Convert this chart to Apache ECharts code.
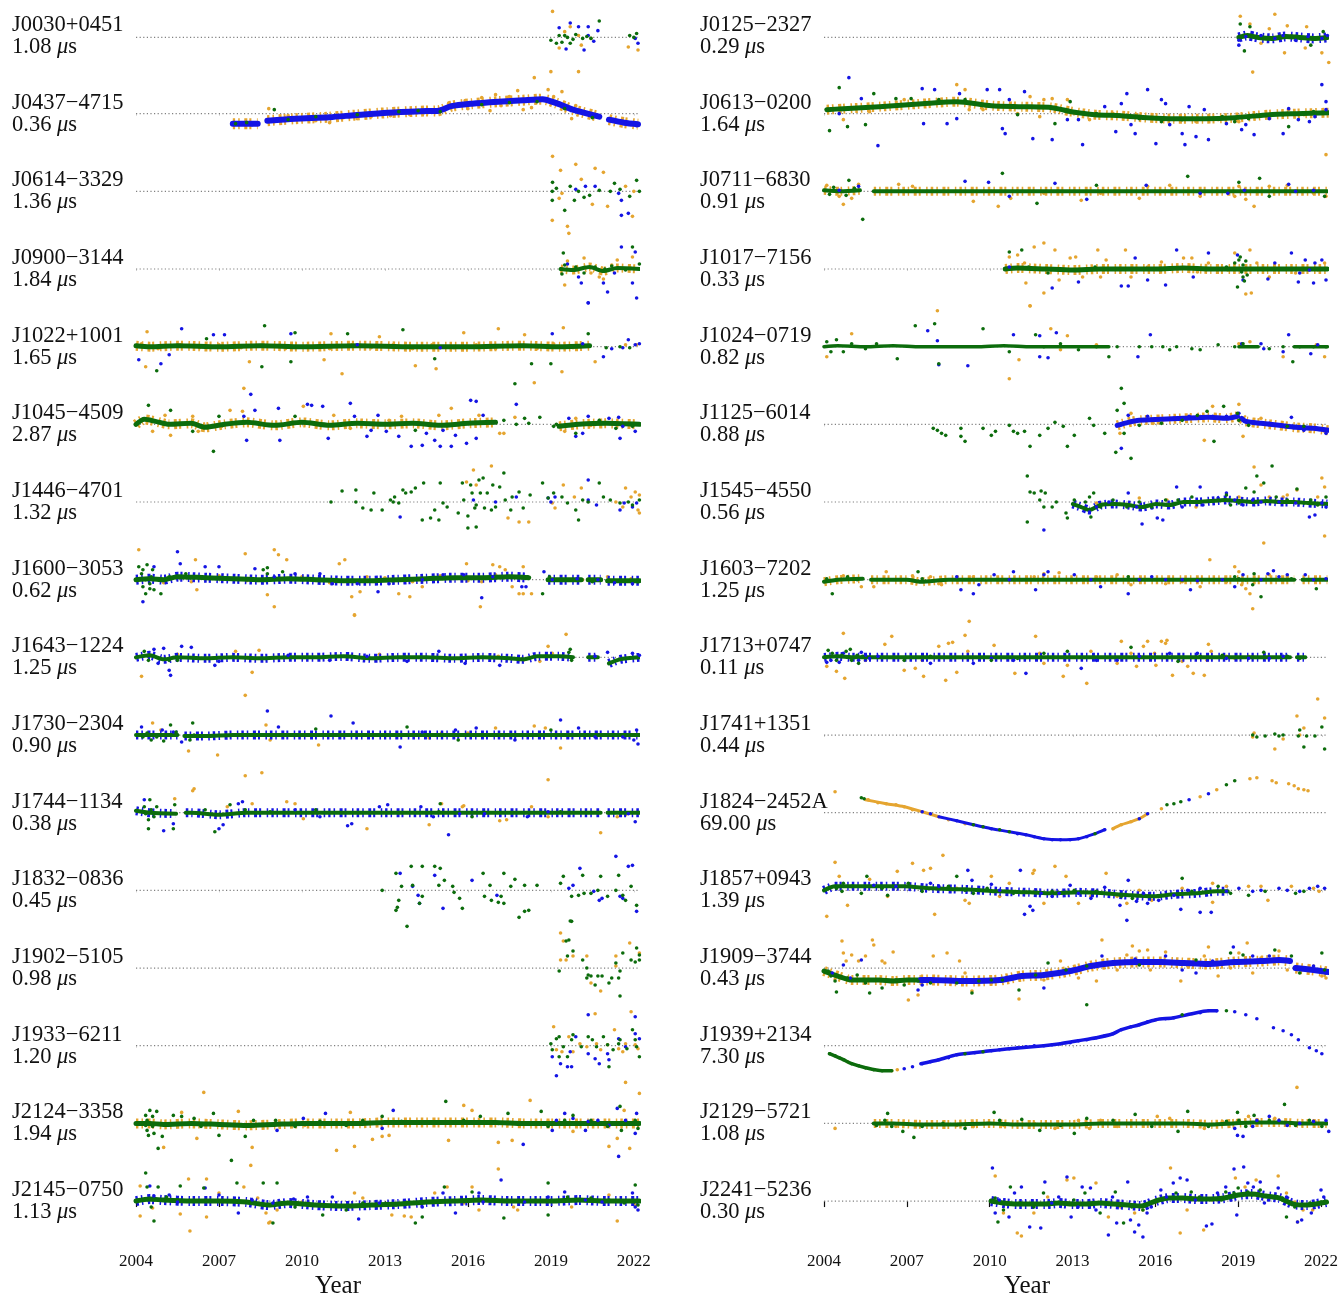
<!DOCTYPE html>
<html>
<head>
<meta charset="utf-8">
<script src="https://cdn.jsdelivr.net/npm/echarts@6/dist/echarts.min.js"></script>
<style>
  html, body { margin: 0; padding: 0; background: #fff; }
  #main { width: 1341px; height: 1298px; }
</style>
</head>
<body>
<div id="main"></div>
<script>
// pulsar names and rms values, left column first then right column
const names = ['J0030+0451', 'J0437−4715', 'J0614−3329', 'J0900−3144', 'J1022+1001', 'J1045−4509', 'J1446−4701', 'J1600−3053',
  'J1643−1224', 'J1730−2304', 'J1744−1134', 'J1832−0836', 'J1902−5105', 'J1933−6211', 'J2124−3358', 'J2145−0750',
  'J0125−2327', 'J0613−0200', 'J0711−6830', 'J1017−7156', 'J1024−0719', 'J1125−6014', 'J1545−4550', 'J1603−7202',
  'J1713+0747', 'J1741+1351', 'J1824−2452A', 'J1857+0943', 'J1909−3744', 'J1939+2134', 'J2129−5721', 'J2241−5236'];
const rms = ['1.08', '0.36', '1.36', '1.84', '1.65', '2.87', '1.32', '0.62', '1.25', '0.90', '0.38', '0.45', '0.98', '1.20', '1.94', '1.13',
  '0.29', '1.64', '0.91', '0.33', '0.82', '0.88', '0.56', '1.25', '0.11', '0.44', '69.00', '1.39', '0.43', '7.30', '1.08', '0.30'];
const yearTicks = [2004, 2007, 2010, 2013, 2016, 2019, 2022];

// residuals [year, value]; value in display units, one row spans about -39..39
// _o = orange, _g = green, _b = blue backend; _t = dense run of points
const J0030_o = [[2019.06,27],[2019.3,-11],[2019.7,11],[2020.0,2],[2020.45,-1],[2020.1,-8],[2021.8,-10],[2022.15,-13],[2019.5,6]];
const J0030_g = [[2019.0,-3],[2019.3,2],[2019.4,-5],[2019.5,2],[2019.7,-6],[2019.9,3],[2020.15,-1],[2020.45,-1],[2020.75,17],[2019.2,-6],[2021.85,2],[2022.1,4],[2022.0,0],[2019.6,0],[2020.3,1],[2019.8,-2]];
const J0030_b = [[2019.3,10],[2019.7,15],[2020.0,11],[2020.35,11],[2020.7,7],[2020.35,2],[2020.55,-4],[2020.2,-13],[2019.55,-12],[2022.05,-1],[2022.15,-6]];

const J0437_t = [[2007.5,-10],[2008.4,-10],[2008.55,'-'],[2008.75,-7],[2009.75,-5],[2011.0,-3.5],[2011.9,-1.5],[2013.1,1],[2014.3,2.5],[2014.95,3],[2015.4,7.5],[2016.15,10],[2017.1,12],[2018.0,13.5],[2018.7,14.5],[2019.2,10.5],[2019.8,4],[2020.75,-3],[2020.95,'-'],[2021.1,-6],[2021.65,-9],[2022.15,-10.5]];
const J0437_o = [[2008.8,5],[2009.5,-2],[2010.0,-6],[2010.5,-7],[2011.0,-9],[2011.5,-4],[2012.0,-5],[2012.5,-3],[2013.2,-2],[2013.9,-1],[2014.5,3],[2015.3,10],[2015.9,13],[2016.5,16],[2017.0,19],[2017.5,17],[2017.8,23],[2018.0,4],[2018.3,6],[2018.4,36],[2019.0,42],[2020.0,42],[2018.9,24],[2019.4,22],[2019.75,-5],[2019.1,17],[2019.9,8],[2021.9,-11],[2016.8,3],[2016.0,5],[2009.0,-8],[2010.2,-4],[2013.5,0],[2017.2,8]];
const J0437_g = [[2008.0,-9],[2009.0,4],[2009.5,-6],[2010.5,-3],[2012.0,-1],[2013.5,2],[2015.0,2],[2016.5,9],[2017.5,11],[2018.5,12],[2019.5,5],[2020.5,-4],[2007.6,-10],[2014.2,3]];
const J0437_b = [[2007.55,-9],[2008.2,-11],[2021.8,-9],[2022.1,-12],[2019.4,8]];

const J0614_o = [[2019.06,35],[2019.9,27],[2019.35,21],[2019.05,-29],[2019.6,-35],[2019.65,-42],[2019.4,-2],[2019.3,-7],[2020.5,-13],[2020.6,23],[2020.9,19],[2021.05,-15],[2021.95,-25],[2021.7,5],[2022.0,0],[2020.1,12]];
const J0614_g = [[2019.06,9],[2019.05,0],[2019.05,-9],[2019.5,-19],[2020.0,0],[2020.4,-4],[2020.75,1],[2021.3,8],[2022.1,11],[2022.2,0],[2021.85,-5],[2019.85,-9],[2019.7,5],[2021.15,0],[2019.2,3],[2020.2,-6],[2021.5,2]];
const J0614_b = [[2020.25,5],[2020.6,5],[2021.45,-2],[2021.55,-9],[2021.55,-24],[2021.8,-22],[2019.9,2]];

const J0900_t = [[2019.35,0],[2019.8,-1],[2020.4,2],[2020.9,-2],[2021.4,1],[2022.2,0]];
const J0900_o = [[2019.5,-16],[2020.2,11],[2020.45,-4],[2020.75,-8],[2021.4,9],[2021.85,2],[2021.95,12],[2019.85,-1],[2021.2,4],[2019.6,8],[2020.9,-10]];
const J0900_g = [[2019.45,16],[2019.5,4],[2019.9,2],[2020.6,2],[2020.95,0],[2021.7,-1],[2021.95,22],[2022.2,5],[2019.4,-5],[2020.2,-4],[2021.2,3]];
const J0900_b = [[2019.6,5],[2020.1,-14],[2020.35,-34],[2020.9,-14],[2021.05,-23],[2021.55,22],[2022.05,17],[2021.95,-14],[2022.1,-29],[2021.3,-4],[2020.0,-8]];

const J1022_t = [[2004.0,1],[2004.5,0],[2005.5,1],[2007,0],[2008.5,1],[2010,0],[2012,1],[2014,0],[2016,0],[2018,1],[2019.3,0],[2020.4,1]];
const J1022_o = [[2004.35,-20],[2004.4,15],[2008.1,-15],[2010.8,-13],[2011.05,13],[2011.45,-27],[2012.8,10],[2014.1,-19],[2014.85,-22],[2015.85,14],[2017.1,18],[2018.05,12],[2018.4,-36],[2019.45,19],[2019.4,-25],[2020.6,-15],[2021.7,2],[2022.1,2],
  [2004.2,3],[2004.8,-2],[2005.6,2],[2006.3,-1],[2007.0,2],[2007.8,-1],[2008.6,2],[2009.4,-2],[2010.2,1],[2011.0,-2],[2011.8,2],[2012.5,-1],[2013.3,2],[2014.0,-2],[2014.7,2],[2015.5,-1],[2016.3,2],[2017.0,-2],[2017.7,1],[2018.5,-2],[2019.1,3],[2019.8,-1]];
const J1022_g = [[2004.75,-24],[2006.55,8],[2008.55,-20],[2008.65,21],[2009.75,14],[2009.6,-15],[2011.65,13],[2013.65,17],[2014.8,-12],[2017.7,-37],[2018.3,-17],[2019.0,-17],[2020.35,13],[2021.0,-1],[2021.5,0],[2021.85,-1]];
const J1022_b = [[2004.1,-13],[2004.9,-17],[2005.65,18],[2006.8,12],[2007.2,12],[2009.6,13],[2019.05,13],[2020.35,44],[2020.9,-10],[2021.8,7],[2022.05,2],[2022.2,3],[2021.2,-2],[2021.6,-1],[2020.15,3],[2005.2,-8],[2012.0,2],[2015.0,-1]];

const J1045_t = [[2004.0,0],[2004.3,5],[2004.7,3],[2005.2,0],[2006.0,1],[2006.5,-3],[2007.2,0],[2008.0,2],[2009.0,-1],[2010,2],[2011,-1],[2012,1],[2013,0],[2014,1],[2015,-1],[2016,1],[2017.0,2],[2017.1,'-'],[2019.3,-2],[2020,0],[2021,1],[2022.2,0]];
const J1045_o = [[2007.9,36],[2007.4,14],[2007.85,13],[2005.25,-11],[2004.6,-7],[2005.05,9],[2006.05,8],[2006.25,-7],[2007.1,-2],[2010.05,18],[2011.15,9],[2011.75,-4],[2013.15,4],[2013.6,8],[2014.95,9],[2015.4,16],[2016.4,9],[2017.15,-9],[2017.3,-9],[2017.7,7],[2019.5,-7],[2019.9,6],[2020.45,-1]];
const J1045_g = [[2004.45,19],[2005.25,14],[2006.8,-27],[2007.0,8],[2006.05,-7],[2009.75,8],[2014.1,-6],[2017.75,0],[2018.05,6],[2018.6,7],[2019.2,0],[2019.9,-9],[2020.75,4],[2021.35,-4],[2021.95,-2],[2020.6,0],[2017.3,4],[2018.2,1],[2019.1,-2]];
const J1045_b = [[2008.15,30],[2007.9,8],[2008.0,-16],[2008.3,14],[2009.15,16],[2009.2,-16],[2010.2,20],[2010.35,19],[2010.75,18],[2010.95,-14],[2011.75,21],[2011.9,8],[2012.35,-12],[2012.5,-6],[2012.75,9],[2013.05,-7],[2013.5,-12],[2013.95,-22],[2014.35,-21],[2014.5,-9],[2014.8,-16],[2015.0,-22],[2015.1,-6],[2015.4,-22],[2015.55,-11],[2015.95,-19],[2016.1,24],[2016.3,23],[2016.3,-14],[2016.55,9],[2017.75,20],[2019.65,6],[2019.9,-12],[2020.35,8],[2021.5,-14],[2021.6,-2],[2022.05,-7],[2021.1,6],[2021.45,7],[2020.15,-9]];

const J1446_o = [[2015.95,20],[2016.2,32],[2016.85,36],[2016.3,17],[2017.45,-16],[2017.85,-20],[2018.2,-20],[2019.05,-1],[2019.15,-6],[2019.45,17],[2019.85,5],[2020.1,14],[2021.35,0],[2021.6,-5],[2021.7,14],[2021.9,5],[2022.05,10],[2022.15,-8],[2022.2,7],[2022.2,-11]];
const J1446_g = [[2011.05,0],[2011.45,11],[2011.95,12],[2011.95,0],[2012.2,-6],[2012.5,-8],[2012.6,9],[2012.9,-8],[2013.2,2],[2013.3,0],[2013.35,5],[2013.5,-1],[2013.65,12],[2013.75,9],[2013.95,10],[2014.1,14],[2014.35,-18],[2014.4,19],[2014.65,-16],[2014.8,-8],[2015.0,19],[2014.95,-18],[2015.1,-1],[2015.25,-5],[2015.65,-11],[2015.8,19],[2015.85,2],[2016.0,-14],[2016.0,-26],[2016.1,17],[2016.15,9],[2016.25,-6],[2016.3,-3],[2016.3,-25],[2016.4,22],[2016.45,9],[2016.55,24],[2016.6,-6],[2016.7,9],[2016.85,-8],[2016.9,17],[2017.0,-5],[2017.15,15],[2017.3,29],[2017.35,2],[2017.55,-8],[2017.6,5],[2017.85,10],[2018.0,-6],[2018.25,7],[2018.7,19],[2018.9,4],[2019.1,9],[2019.4,5],[2019.6,-1],[2019.9,-8],[2020.0,-18],[2020.15,2],[2020.35,0],[2020.75,19],[2020.9,5],[2021.15,2],[2021.5,-1],[2021.8,0],[2021.95,-3],[2022.2,2]];
const J1446_b = [[2013.55,-15],[2016.2,2],[2017.0,0],[2017.75,5],[2018.9,4],[2019.0,0],[2019.15,5],[2020.35,22],[2020.65,-3],[2021.5,-8],[2021.65,-1],[2021.95,-5],[2022.1,-1],[2020.35,2]];

const J1600_t = [[2004.0,0],[2004.5,1],[2005.0,0],[2005.5,3],[2006.5,2],[2007.5,1],[2008.5,0],[2009.5,1],[2010.5,0],[2011.5,-1],[2012.5,-1],[2013.5,0],[2014.5,1],[2015.5,2],[2016.5,2],[2017.5,3],[2018.2,2],[2018.5,'-'],[2018.9,0],[2020.1,0],[2020.2,'-'],[2020.35,0],[2020.8,0],[2020.9,'-'],[2021.05,-1],[2022.2,-1]];
const J1600_o = [[2004.1,30],[2006.15,20],[2006.2,-10],[2007.95,26],[2009.0,30],[2009.15,25],[2009.45,20],[2008.75,-15],[2009.0,-27],[2011.35,16],[2011.55,20],[2011.8,-17],[2011.9,-35],[2012.1,-12],[2012.35,3],[2013.5,-14],[2013.9,-17],[2014.35,-7],[2015.95,16],[2016.5,-2],[2016.45,-27],[2016.9,15],[2017.15,13],[2017.35,10],[2017.6,-7],[2017.85,-14],[2018.0,-14],[2018.0,13],[2018.3,-14],[2019.4,0],[2020.15,0],[2021.05,3],[2021.9,1],
  [2005.0,-3],[2006.0,-2],[2007.0,4],[2008.0,-1],[2010.0,3],[2011.0,-3],[2013.0,2],[2014.0,-2],[2015.0,4],[2016.0,-1],[2017.0,5]];
const J1600_g = [[2004.1,13],[2004.2,6],[2004.25,-7],[2004.35,-14],[2004.4,15],[2004.5,-4],[2004.55,3],[2004.65,-10],[2004.35,0],[2004.25,10],[2004.6,10],[2004.5,-9],[2004.9,-14],[2005.2,3],[2005.8,6],[2018.7,-14],[2018.15,3],[2018.95,3],[2020.5,-2],[2022.15,-2],[2008.6,10],[2009.3,8],[2008.75,12],[2008.75,6]];
const J1600_b = [[2004.25,-22],[2004.65,13],[2005.5,28],[2005.6,16],[2006.5,13],[2007.0,13],[2008.3,11],[2009.0,3],[2009.75,6],[2010.65,6],[2011.1,-4],[2012.0,-4],[2012.75,-12],[2013.15,-4],[2014.35,0],[2015.1,5],[2015.85,5],[2016.5,-18],[2016.9,3],[2017.95,-7],[2018.1,-7],[2018.75,8],[2019.05,0],[2019.95,1],[2020.7,0],[2021.3,-3],[2021.95,-4]];

const J1643_t = [[2004.0,0],[2004.5,2],[2005.0,-2],[2005.5,0],[2006.5,-1],[2007.5,0],[2008.5,-1],[2009.5,0],[2010.5,0],[2011.5,1],[2012.5,-1],[2013.5,0],[2014.5,0],[2015.5,-1],[2016.5,0],[2017.5,-1],[2018.0,-2],[2018.5,1],[2019.3,1],[2019.8,0],[2020.0,'-'],[2020.35,0],[2020.7,0],[2020.85,'-'],[2021.1,-6],[2021.5,-2],[2022.2,0]];
const J1643_o = [[2004.2,-19],[2008.2,-15],[2007.95,-38],[2011.9,42],[2007.6,6],[2008.45,7],[2018.9,11],[2019.55,23],[2019.05,4],[2017.1,1],[2018.0,-3],[2018.6,-4],[2005.5,3],[2012.8,3]];
const J1643_g = [[2004.3,6],[2004.45,-3],[2019.65,5],[2019.7,8],[2019.75,-3],[2005.2,-3],[2005.5,-3]];
const J1643_b = [[2004.65,8],[2005.0,9],[2005.65,11],[2006.0,10],[2005.25,-18],[2005.2,-13],[2004.8,-6],[2006.85,-8],[2007.0,-4],[2009.5,2],[2011.0,-3],[2012.35,1],[2013.8,-4],[2014.95,6],[2015.9,-6],[2017.15,-8],[2021.05,5],[2021.95,4],[2022.2,2],[2020.6,1]];

const J1730_t = [[2004.0,0],[2005.5,0],[2005.6,'-'],[2005.75,-1],[2006.5,-1],[2007.5,0],[2009,0],[2011,0],[2013,0],[2015,0],[2017,0],[2019,0],[2020.5,0],[2022.2,0]];
const J1730_o = [[2005.9,-16],[2006.95,-20],[2008.7,10],[2008.85,-5],[2010.6,-10],[2014.6,-3],[2015.05,2],[2018.4,9],[2018.8,7],[2019.35,-13],[2017.0,7],[2016.0,2],[2004.6,12],[2004.9,5]];
const J1730_g = [[2004.25,-2],[2004.4,2],[2004.55,-5],[2004.75,-2],[2005.0,-6],[2005.25,10],[2005.45,3],[2006.05,12],[2006.1,0],[2005.95,-5],[2010.5,6],[2013.8,8],[2015.65,-5],[2017.4,0],[2019.0,5]];
const J1730_b = [[2004.2,8],[2004.95,5],[2005.35,3],[2005.65,-7],[2008.75,24],[2009.15,8],[2011.05,19],[2011.85,12],[2013.55,-12],[2014.35,3],[2015.55,5],[2016.3,7],[2017.7,-5],[2019.35,15],[2020.0,7],[2020.6,-2],[2022.1,5],[2022.15,-9],[2022.0,-5],[2021.6,-2]];

const J1744_t = [[2004.0,2],[2004.5,0],[2005.45,-1],[2005.6,'-'],[2005.8,0],[2006,0],[2007,-2],[2008,0],[2009,0],[2011,0],[2013,0],[2015,0],[2017,0],[2019,0],[2020.8,0],[2020.9,'-'],[2021.05,0],[2022.2,0]];
const J1744_o = [[2006.1,24],[2006.05,22],[2005.4,14],[2007.95,37],[2008.55,40],[2007.3,6],[2008.2,9],[2009.45,11],[2009.75,9],[2010.05,-6],[2012.35,-16],[2014.6,-12],[2015.05,9],[2015.8,6],[2015.85,7],[2017.15,-8],[2017.4,-7],[2018.3,6],[2018.9,33],[2018.9,-4],[2020.8,-20],[2021.4,-4],[2021.7,-2]];
const J1744_g = [[2004.3,6],[2004.35,-1],[2004.45,-7],[2004.5,13],[2004.55,3],[2004.65,-4],[2004.75,6],[2004.45,-16],[2005.35,-16],[2005.4,8],[2006.85,-19],[2006.5,3],[2007.4,8],[2007.95,3],[2008.85,1],[2010.5,3],[2015.0,9],[2014.95,1],[2016.15,-4],[2019.35,1]];
const J1744_b = [[2004.3,13],[2005.0,-18],[2005.35,-11],[2007.0,-16],[2007.15,-12],[2007.7,9],[2007.85,11],[2009.75,3],[2010.65,-4],[2011.65,-13],[2011.8,-11],[2012.8,6],[2013.1,8],[2014.3,6],[2014.75,-4],[2015.3,-22],[2015.7,-1],[2016.6,-1],[2018.15,-4],[2018.9,1],[2021.8,-1],[2022.05,-9]];

const J1832_o = [];
const J1832_g = [[2012.9,0],[2013.4,17],[2013.4,-20],[2013.45,-17],[2013.5,-10],[2013.6,4],[2013.8,-36],[2013.95,24],[2014.0,5],[2014.35,24],[2014.25,-13],[2014.35,-6],[2014.8,24],[2015.0,22],[2015.15,10],[2014.95,5],[2015.45,4],[2015.5,-2],[2015.8,-18],[2015.7,-8],[2016.55,17],[2016.6,-6],[2016.8,5],[2016.85,-10],[2017.1,-12],[2017.2,-6],[2017.3,-13],[2017.3,17],[2017.55,4],[2017.7,11],[2017.85,-27],[2018.05,-21],[2018.2,-20],[2018.05,5],[2018.5,5],[2019.35,7],[2019.45,14],[2019.75,-31],[2019.75,-6],[2020.0,-5],[2020.15,15],[2020.2,-3],[2020.45,-3],[2020.7,0],[2020.8,14],[2021.05,-6],[2021.35,0],[2021.45,15],[2021.6,-5],[2021.7,-10],[2021.9,4],[2022.1,-15]];
const J1832_b = [[2013.55,17],[2014.0,4],[2014.2,-5],[2014.25,-13],[2014.8,15],[2015.1,-18],[2016.15,10],[2017.05,-5],[2019.65,2],[2019.8,5],[2020.05,22],[2020.55,-1],[2020.75,-10],[2020.85,-8],[2021.35,34],[2021.5,-6],[2021.6,-8],[2021.8,24],[2021.95,25],[2022.1,-21]];

const J1902_o = [[2019.35,35],[2019.45,27],[2019.55,8],[2019.35,8],[2019.8,12],[2020.3,12],[2020.45,-15],[2020.8,-23],[2021.35,12],[2021.35,2],[2021.85,25],[2022.2,15]];
const J1902_g = [[2019.3,-3],[2019.55,27],[2019.65,28],[2019.7,47],[2019.8,17],[2019.6,12],[2020.15,8],[2020.3,0],[2020.35,-7],[2020.45,-8],[2020.3,-10],[2020.6,-17],[2020.7,-8],[2020.85,-8],[2021.1,-15],[2021.2,-10],[2021.35,5],[2021.45,-10],[2021.5,-3],[2021.5,-28],[2021.6,15],[2021.9,8],[2022.05,6],[2022.1,20],[2022.2,13],[2022.2,8]];
const J1902_b = [];

const J1933_o = [[2019.1,19],[2019.2,-4],[2019.4,-6],[2019.65,9],[2019.8,-6],[2020.05,2],[2020.3,-1],[2020.6,32],[2020.65,2],[2020.8,-4],[2021.05,1],[2021.3,16],[2021.45,-3],[2021.6,-6],[2021.7,2],[2021.9,34],[2022.05,1],[2022.15,-3]];
const J1933_g = [[2019.0,2],[2019.05,-4],[2019.2,7],[2019.3,9],[2019.45,-1],[2019.6,-11],[2019.75,6],[2019.8,11],[2020.1,-1],[2020.35,9],[2020.5,6],[2020.65,-1],[2020.9,9],[2021.05,1],[2021.1,-21],[2021.25,-4],[2021.45,2],[2021.5,6],[2021.75,-3],[2021.95,16],[2022.05,6],[2022.1,-1],[2022.2,-11],[2019.3,-11]];
const J1933_b = [[2019.05,-11],[2019.2,-30],[2019.35,-18],[2019.6,-21],[2019.7,-6],[2019.75,-21],[2019.9,9],[2020.35,31],[2020.35,-8],[2020.6,-13],[2020.75,-18],[2021.05,-8],[2021.1,-14],[2021.45,7],[2021.7,-1],[2022.05,29],[2022.05,12],[2022.2,7]];

const J2124_t = [[2004.0,0],[2004.5,0],[2005,-1],[2006,0],[2007,-1],[2008,-2],[2009,-1],[2010,0],[2011,0],[2012,0],[2013,1],[2014,1],[2015,1],[2016,1],[2017,1],[2018,0],[2019,0],[2020,0],[2021,0],[2022.2,0]];
const J2124_o = [[2004.1,-1],[2005.0,-24],[2005.65,11],[2006.45,31],[2006.2,-15],[2007.7,12],[2008.2,-24],[2008.15,-42],[2008.25,-3],[2010.1,-2],[2011.25,-27],[2011.75,11],[2011.9,-23],[2012.55,-16],[2012.9,-13],[2013.15,-12],[2015.3,-17],[2015.85,18],[2016.15,13],[2017.1,-19],[2017.6,-17],[2018.25,23],[2018.9,2],[2019.8,-8],[2021.1,-23],[2021.4,-15],[2021.7,41],[2021.85,-25],[2022.2,30],[2021.65,13]];
const J2124_g = [[2004.35,8],[2004.4,3],[2004.4,-7],[2004.45,-12],[2004.5,13],[2004.6,-3],[2004.6,7],[2004.65,-10],[2004.75,12],[2004.35,-2],[2004.8,-25],[2004.95,-13],[2005.35,8],[2005.65,7],[2006.1,5],[2006.35,-3],[2006.8,10],[2007.0,-12],[2007.45,-37],[2007.95,-13],[2008.25,3],[2009.05,3],[2009.75,-3],[2010.65,2],[2011.6,-2],[2012.2,3],[2012.9,7],[2013.6,2],[2015.2,22],[2015.85,3],[2016.45,7],[2017.1,0],[2017.45,10],[2018.2,0],[2018.65,12],[2018.9,-3],[2019.5,3],[2019.8,8],[2020.45,3],[2021.05,-3],[2021.5,17],[2021.55,-7],[2022.05,3],[2022.15,-5]];
const J2124_b = [[2009.1,-7],[2010.05,5],[2010.85,10],[2012.9,-5],[2013.3,13],[2018.0,-21],[2019.05,-7],[2019.2,3],[2019.5,10],[2019.8,5],[2020.25,-7],[2020.35,2],[2020.7,3],[2021.1,-2],[2021.4,15],[2021.45,-33],[2021.7,3],[2022.05,-10],[2022.1,10]];

const J2145_t = [[2004.0,0],[2004.5,2],[2005,1],[2006,0],[2007,0],[2008,-1],[2008.8,-4],[2009.5,-2],[2010.5,-4],[2011.5,-5],[2012.5,-4],[2013.5,-3],[2014.5,-1],[2015.5,0],[2016.5,1],[2017.5,0],[2018.5,0],[2019,0],[2020,1],[2021,0],[2022.2,0]];
const J2145_o = [[2004.15,15],[2004.15,-15],[2004.6,-7],[2005.6,-13],[2005.9,22],[2005.95,-30],[2006.55,22],[2006.55,-16],[2007.0,8],[2007.9,14],[2008.4,3],[2008.7,-12],[2008.85,-21],[2008.8,-22],[2009.1,-9],[2010.0,-1],[2011.9,8],[2012.2,3],[2013.25,-14],[2013.7,-15],[2013.95,-16],[2014.8,8],[2015.25,14],[2015.85,-2],[2016.15,14],[2016.4,-9],[2017.1,32],[2017.65,-6],[2017.8,-9],[2019.75,-6],[2021.1,6],[2021.4,-20],[2022.05,-4]];
const J2145_g = [[2004.35,28],[2004.4,14],[2004.55,-6],[2004.65,-20],[2004.8,14],[2005.1,4],[2005.6,15],[2006.45,13],[2007.65,18],[2008.6,18],[2008.95,-22],[2009.1,18],[2009.75,-6],[2010.75,-14],[2011.6,-9],[2012.2,-2],[2013.4,-4],[2014.1,-22],[2014.35,-16],[2015.15,14],[2016.15,9],[2017.3,-17],[2018.9,18],[2018.9,-14],[2019.6,4],[2020.45,3],[2021.1,1],[2021.65,-2],[2022.05,16],[2022.15,-4]];
const J2145_b = [[2004.5,15],[2004.65,5],[2005.2,6],[2005.5,-1],[2006.5,13],[2007.0,6],[2007.7,-12],[2008.2,1],[2008.95,-2],[2009.7,2],[2010.2,4],[2011.1,4],[2012.05,-18],[2012.8,-2],[2014.35,-6],[2015.1,8],[2015.55,-12],[2016.4,8],[2016.55,-1],[2017.2,21],[2018.05,-1],[2018.9,4],[2019.5,9],[2020.25,1],[2020.85,-1],[2021.95,8],[2022.05,-6],[2022.15,-9]];

const J0125_t = [[2019.0,0],[2019.3,2],[2019.7,0],[2020.2,-1],[2020.7,1],[2021.2,0],[2021.7,-1],[2022.2,0]];
const J0125_o = [[2019.05,22],[2019.4,14],[2019.5,-36],[2019.8,-6],[2020.3,24],[2020.75,12],[2020.65,-16],[2021.4,-11],[2021.45,11],[2022.0,-16],[2022.25,-26],[2020.1,9],[2020.9,2]];
const J0125_g = [[2019.05,14],[2019.2,-14],[2019.4,11],[2021.6,-8],[2022.05,6]];
const J0125_b = [[2019.0,-3],[2019.25,1],[2019.8,2],[2020.3,-1],[2020.6,2],[2021.05,-3],[2021.5,1],[2022.0,-1],[2022.2,2],[2019.0,-8]];

const J0613_t = [[2004.1,4],[2004.7,5],[2006.0,7],[2007.55,10],[2008.8,12],[2010.05,8],[2011.15,7],[2012.25,6],[2012.95,2],[2013.8,-1],[2014.75,-2],[2015.7,-4],[2016.65,-5],[2017.75,-5],[2018.85,-4],[2020.1,-1],[2021.05,0],[2022.25,1]];
const J0613_o = [[2004.1,4],[2004.7,-6],[2005.65,2],[2006.9,14],[2007.85,10],[2008.8,29],[2009.1,24],[2009.25,4],[2009.75,4],[2011.0,0],[2011.45,17],[2011.8,-3],[2011.95,14],[2012.25,15],[2012.8,14],[2013.05,0],[2013.6,-6],[2014.45,0],[2015.3,-1],[2016.65,-6],[2017.45,-8],[2018.25,-6],[2019.0,-8],[2020.1,-3],[2020.8,4],[2021.35,-1],[2022.15,-41]];
const J0613_g = [[2004.2,-17],[2004.55,26],[2004.85,-13],[2005.5,-11],[2005.8,20],[2006.6,15],[2007.15,15],[2008.15,14],[2009.1,14],[2011.0,-1],[2012.35,-10],[2012.9,12],[2013.85,0],[2015.4,-5],[2016.2,-8],[2016.95,-6],[2018.4,-3],[2018.85,-8],[2019.35,-5],[2020.6,-1],[2020.8,-13],[2021.05,0],[2021.7,2]];
const J0613_b = [[2004.9,36],[2004.55,0],[2005.95,-32],[2005.35,15],[2007.55,25],[2008.0,24],[2007.6,-10],[2008.45,-10],[2008.8,-5],[2008.9,20],[2009.9,24],[2010.35,24],[2010.45,-15],[2010.55,-20],[2010.7,14],[2011.55,-25],[2011.25,22],[2012.25,-26],[2013.35,-31],[2012.8,-6],[2013.2,-6],[2014.15,7],[2014.55,-18],[2014.75,10],[2014.95,20],[2015.1,-11],[2015.25,-20],[2015.7,24],[2016.0,-30],[2016.2,14],[2016.35,10],[2016.5,-11],[2016.95,-20],[2017.05,-31],[2017.2,7],[2017.45,-23],[2017.9,-26],[2017.75,4],[2018.55,-10],[2019.1,-16],[2019.25,-11],[2019.55,-21],[2020.1,-5],[2020.6,-20],[2020.8,5],[2021.15,-6],[2021.55,-8],[2022.0,29],[2022.15,12],[2021.75,-3],[2022.15,4]];

const J0711_t = [[2004.0,1],[2004.6,0],[2005.3,1],[2005.45,'-'],[2005.8,0],[2007,0],[2009,0],[2011,0],[2013,0],[2015,0],[2017,0],[2019,0],[2020.5,0],[2022.2,0]];
const J0711_o = [[2004.1,6],[2004.55,-5],[2004.7,-13],[2005.0,-7],[2005.25,7],[2006.7,7],[2007.2,5],[2009.4,-10],[2010.05,0],[2010.3,-15],[2010.75,-7],[2011.95,-2],[2013.3,-9],[2014.0,-2],[2015.4,-7],[2015.7,5],[2016.5,6],[2017.6,-5],[2018.85,-5],[2019.0,5],[2019.25,-8],[2019.55,-15],[2020.1,5],[2020.75,6],[2021.7,-2],[2022.15,-5]];
const J0711_g = [[2004.9,11],[2005.4,-28],[2010.45,18],[2011.7,-12],[2017.15,15],[2019.0,9],[2019.75,13],[2022.1,-5],[2020.1,-5],[2013.85,6],[2004.2,-3],[2004.35,4],[2004.8,-4],[2005.1,3]];
const J0711_b = [[2004.55,1],[2005.25,5],[2009.1,10],[2009.95,9],[2010.7,-5],[2012.35,8],[2013.5,-8],[2015.65,6],[2017.6,-2],[2018.6,-2],[2019.2,1],[2020.8,7],[2021.05,0],[2021.7,1]];

const J1017_t = [[2010.55,0],[2011,1],[2012,0],[2013,-1],[2014,0],[2015,0],[2016,0],[2017,1],[2018,0],[2019,0],[2020,0],[2021,0],[2022.2,0]];
const J1017_o = [[2010.7,12],[2011.0,14],[2011.25,6],[2011.3,-14],[2011.6,22],[2011.95,26],[2011.95,-24],[2011.45,-37],[2012.35,19],[2012.5,-11],[2012.9,11],[2013.1,12],[2013.35,-8],[2013.9,19],[2014.0,-8],[2014.2,9],[2014.9,19],[2015.1,-8],[2015.7,2],[2016.2,7],[2017.0,11],[2017.3,11],[2017.5,-3],[2017.9,6],[2018.6,-1],[2018.85,16],[2019.25,-25],[2019.45,-24],[2019.4,19],[2019.65,6],[2020.1,-8],[2021.05,-4],[2021.85,-1],[2022.1,6]];
const J1017_g = [[2010.7,17],[2011.15,19],[2011.4,2],[2012.1,-4],[2013.8,2],[2018.55,2],[2018.85,6],[2018.95,-18],[2019.0,9],[2019.15,-8],[2019.1,-3],[2019.15,4],[2019.05,12],[2019.2,-12],[2019.3,-6],[2019.25,8]];
const J1017_b = [[2010.7,2],[2012.25,-19],[2013.2,-13],[2014.75,-17],[2015.0,-17],[2015.25,11],[2015.7,-11],[2016.35,-16],[2016.75,19],[2017.35,-8],[2017.9,16],[2018.95,14],[2019.15,-11],[2020.05,-10],[2020.3,6],[2020.9,16],[2021.15,-13],[2021.4,9],[2021.55,-1],[2021.7,-14],[2021.75,6],[2022.0,9],[2022.15,-11],[2021.2,-4]];

const J1024_t = [[2004.0,0],[2004.5,1],[2005.5,0],[2006.5,1],[2007.5,0],[2008.5,0],[2009.5,0],[2010.5,1],[2011.5,0],[2012.5,0],[2013.5,0],[2014.3,0],[2014.4,'-'],[2019.0,0],[2019.7,0],[2019.8,'-'],[2021.0,0],[2022.2,0]];
const J1024_o = [[2004.1,-10],[2005.0,13],[2008.1,36],[2010.7,-32],[2011.05,-13],[2011.45,41],[2012.2,18],[2012.8,11],[2012.55,-3],[2013.85,2],[2019.0,3],[2019.4,5],[2020.6,-10],[2022.1,-10],[2021.8,2]];
const J1024_g = [[2004.1,5],[2004.25,-5],[2004.45,7],[2004.7,-5],[2005.0,3],[2005.5,-2],[2005.9,3],[2006.65,-12],[2007.3,21],[2008.0,23],[2008.15,-17],[2009.75,18],[2010.7,-5],[2011.65,12],[2011.95,0],[2012.55,3],[2013.2,-3],[2013.85,0],[2014.3,-10],[2014.6,0],[2015.4,0],[2015.85,0],[2016.25,0],[2016.5,-3],[2016.75,0],[2017.3,-2],[2017.6,-3],[2018.25,2],[2018.85,0],[2019.15,3],[2020.1,-2],[2020.6,0],[2020.95,-15],[2021.2,0],[2021.7,0],[2022.15,0]];
const J1024_b = [[2007.75,16],[2008.15,-18],[2008.1,6],[2009.2,-19],[2010.85,12],[2011.8,11],[2012.4,14],[2011.8,-10],[2012.1,-11],[2015.8,12],[2015.35,-10],[2019.1,3],[2019.8,3],[2019.9,-2],[2020.8,12],[2020.6,-5],[2021.6,-7],[2021.85,2]];

const J1125_t = [[2014.6,-1],[2015.0,2],[2015.4,4],[2016.2,5],[2017.0,6],[2017.9,7],[2018.55,6],[2018.95,8],[2019.05,'-'],[2019.1,6],[2019.25,3],[2019.8,1],[2020.45,-1],[2021.05,-3],[2021.7,-4],[2022.25,-6]];
const J1125_o = [[2014.7,-9],[2015.1,11],[2015.9,1],[2016.5,6],[2017.6,8],[2017.75,-16],[2018.05,18],[2018.15,9],[2019.0,20],[2019.15,-12],[2019.8,6],[2020.1,-1],[2020.65,-2],[2022.1,-7]];
const J1125_g = [[2007.95,-4],[2008.1,-6],[2008.25,-9],[2008.4,-11],[2008.95,-4],[2008.95,-12],[2009.1,-17],[2009.75,-4],[2010.05,-11],[2010.2,-7],[2010.7,-1],[2010.85,-7],[2011.0,-9],[2011.25,-7],[2011.45,-22],[2011.8,-11],[2012.1,-4],[2012.35,2],[2012.65,-2],[2012.8,-22],[2013.05,-11],[2013.6,6],[2013.75,-1],[2014.15,-9],[2014.55,-28],[2014.6,14],[2014.75,36],[2014.85,21],[2015.1,-34],[2014.85,-9],
  [2015.4,-1],[2016.2,1],[2016.95,4],[2017.5,9],[2017.85,13],[2018.1,-17],[2018.45,18],[2018.95,11],[2019.0,4],[2019.35,-1],[2020.75,-2],[2021.35,-2]];
const J1125_b = [[2014.75,-24],[2014.7,-1],[2015.0,9],[2015.7,8],[2016.65,6],[2017.2,8],[2018.05,8],[2017.45,6],[2018.55,8],[2019.0,11],[2019.5,2],[2020.1,1],[2020.9,7],[2021.35,-6],[2021.9,-5],[2022.15,-9]];

const J1545_t = [[2013.0,-2],[2013.3,-5],[2013.6,-8],[2014.0,-3],[2014.5,-2],[2015.0,-3],[2015.5,-5],[2016.0,-2],[2016.5,-3],[2017.0,0],[2017.5,0],[2018.0,1],[2018.5,2],[2019.0,1],[2019.5,0],[2020.0,1],[2020.5,0],[2021.0,0],[2021.5,-1],[2022.2,-2]];
const J1545_o = [[2013.85,-1],[2015.4,4],[2016.4,2],[2017.45,-5],[2019.0,5],[2019.55,35],[2019.8,17],[2019.9,-41],[2020.1,5],[2020.6,5],[2020.75,7],[2021.1,12],[2022.0,24],[2022.1,15],[2022.1,-34],[2021.85,5]];
const J1545_g = [[2011.35,26],[2011.35,-20],[2011.45,10],[2011.6,9],[2011.85,11],[2012.0,9],[2011.8,2],[2011.95,-5],[2012.25,-5],[2012.4,0],[2012.75,-11],[2012.8,-16],[2013.05,2],[2013.45,0],[2013.6,5],
  [2013.65,-15],[2013.75,9],[2014.0,-5],[2014.45,2],[2014.95,-5],[2015.4,0],[2015.85,-5],[2016.35,2],[2016.8,2],[2017.3,5],[2017.6,0],[2018.25,2],[2018.55,7],[2018.7,-3],[2019.25,14],[2019.55,10],[2019.65,26],[2019.9,19],[2020.2,36],[2020.35,5],[2020.75,2],[2021.1,13],[2021.35,-1],[2021.6,2],[2021.85,-3],[2022.15,5],[2019.0,-1]];
const J1545_b = [[2011.95,-28],[2013.6,-10],[2013.85,-5],[2014.3,0],[2015.0,9],[2015.3,-5],[2015.5,-22],[2015.85,-6],[2016.05,-16],[2016.25,-18],[2016.75,15],[2016.95,-5],[2017.6,15],[2017.7,-3],[2018.25,4],[2018.55,9],[2018.85,2],[2019.15,-3],[2019.5,2],[2019.8,0],[2020.45,0],[2021.05,-1],[2021.55,-15],[2021.75,-13],[2022.0,-1],[2022.15,-5]];

const J1603_t = [[2004.0,-2],[2004.5,0],[2005.4,1],[2005.55,'-'],[2005.7,0],[2007.0,0],[2007.5,-2],[2008.5,0],[2010,0],[2012,0],[2014,0],[2016,0],[2018,0],[2019,0],[2020.5,0],[2021.0,0],[2021.1,'-'],[2021.3,0],[2022.2,0]];
const J1603_o = [[2004.1,0],[2004.7,4],[2005.35,-7],[2005.8,-7],[2006.25,8],[2007.2,4],[2007.85,3],[2008.15,-4],[2008.25,-5],[2009.4,3],[2010.35,0],[2011.15,0],[2011.6,3],[2011.95,6],[2012.5,7],[2013.2,0],[2013.85,3],[2014.6,5],[2015.1,-5],[2016.35,-4],[2016.95,-2],[2017.6,-7],[2017.95,20],[2018.55,-2],[2018.85,13],[2019.0,8],[2019.1,-5],[2019.25,-9],[2019.4,-14],[2019.5,-29],[2020.1,5],[2020.75,3],[2021.55,0]];
const J1603_g = [[2004.3,-14],[2004.1,1],[2004.85,3],[2005.2,0],[2007.4,8],[2007.55,1],[2015.0,3],[2019.25,0],[2019.8,-17],[2019.0,1],[2019.5,-5],[2021.8,-9],[2020.9,1],[2019.55,6],[2018.85,3]];
const J1603_b = [[2008.8,3],[2008.95,-10],[2009.4,-14],[2009.6,-5],[2010.15,5],[2010.7,0],[2010.85,8],[2011.65,-10],[2011.95,5],[2012.1,8],[2013.05,5],[2013.65,0],[2014.0,-7],[2015.0,-14],[2015.4,0],[2015.85,3],[2016.35,0],[2016.95,0],[2017.25,-10],[2017.5,-1],[2018.4,0],[2018.85,-7],[2019.15,5],[2019.8,0],[2020.05,6],[2020.25,9],[2020.45,3],[2020.75,5],[2021.4,5],[2021.7,0],[2022.15,1]];

const J1713_t = [[2004.0,0],[2004.5,1],[2005.0,0],[2006,0],[2008,0],[2010,0],[2012,0],[2014,0],[2016,0],[2018,0],[2019.5,0],[2020.85,0],[2020.95,'-'],[2021.1,0],[2021.4,0]];
const J1713_o = [[2004.1,-9],[2004.45,-14],[2004.7,24],[2004.75,-21],[2005.0,-2],[2005.5,-3],[2006.2,13],[2006.45,21],[2006.9,-13],[2007.3,-11],[2007.6,-19],[2007.55,-3],[2008.15,11],[2008.4,-23],[2008.5,14],[2008.65,15],[2008.8,-15],[2009.1,22],[2009.25,36],[2009.2,6],[2010.15,12],[2010.9,-16],[2011.25,1],[2011.65,21],[2011.8,4],[2011.95,-6],[2012.65,-19],[2012.8,-8],[2013.5,-26],[2013.65,6],[2014.6,-6],[2014.75,16],[2015.1,4],[2015.3,-9],[2015.55,11],[2015.7,16],[2015.95,4],[2016.0,-8],[2016.2,16],[2016.35,14],[2016.4,17],[2016.6,-18],[2016.95,-4],[2017.15,-9],[2017.35,-16],[2017.75,-18],[2017.85,-3],[2017.9,13],[2018.0,6],[2018.55,1],[2018.85,-1],[2019.35,1],[2019.5,1]];
const J1713_g = [[2004.15,7],[2004.3,4],[2004.45,-3],[2004.65,2],[2004.8,6],[2004.95,8],[2005.0,-3],[2005.2,2],[2005.25,-6],[2005.4,1],[2006.9,-3],[2007.85,1],[2010.05,-3],[2011.0,-1],[2011.95,4],[2012.8,6],[2015.1,10],[2016.8,-4],[2017.6,1],[2018.4,2],[2019.9,5],[2020.75,1],[2021.2,-1]];
const J1713_b = [[2004.1,-5],[2004.25,-3],[2004.55,-5],[2004.7,4],[2005.25,-3],[2005.35,5],[2005.5,2],[2005.65,-1],[2005.95,1],[2007.85,-6],[2009.4,-6],[2010.05,-1],[2010.85,-3],[2011.3,-16],[2013.3,-11],[2013.85,-3],[2014.6,-3],[2015.4,1],[2016.5,4],[2017.5,4],[2018.55,-1],[2019.35,-1],[2020.1,-1],[2020.6,1]];

const J1741_o = [[2019.5,-2],[2019.55,2],[2020.3,-14],[2020.6,-4],[2021.1,19],[2021.2,0],[2021.35,7],[2021.85,36],[2022.1,17]];
const J1741_g = [[2019.5,0],[2019.65,-2],[2019.95,-1],[2020.3,1],[2020.45,-1],[2020.6,0],[2021.15,-1],[2021.2,5],[2021.35,-12],[2021.45,-1],[2021.75,-1],[2022.0,8],[2022.1,-14]];
const J1741_b = [];

const J1824_t1 = [[2005.5,13],[2006.25,9],[2006.9,6],[2007.55,1],[2008.15,-4]];
const J1824_t2 = [[2008.15,-4],[2008.8,-8],[2009.4,-12],[2010.05,-16],[2010.7,-19],[2011.3,-22],[2011.95,-26],[2012.55,-27],[2013.2,-26],[2013.8,-21],[2014.15,-17]];
const J1824_t3 = [[2014.45,-16],[2014.75,-12],[2015.1,-9],[2015.4,-6],[2015.7,-1]];
const J1824_o = [[2004.4,21],[2005.6,13],[2005.95,10],[2006.25,9],[2006.6,8],[2006.9,6],[2007.2,3],[2008.15,-4],[2008.5,-7],[2009.1,-11],[2014.45,-16],[2014.75,-12],[2015.1,-9],[2016.2,4],[2017.6,16],[2018.2,23],[2019.4,34],[2019.65,35],[2020.2,32],[2020.35,30],[2020.8,29],[2021.0,27],[2021.15,24],[2021.35,23],[2021.5,22]];
const J1824_g = [[2005.35,15],[2005.45,14],[2009.4,-12],[2009.75,-14],[2010.35,-17],[2010.7,-19],[2013.8,-21],[2016.4,8],[2016.65,9],[2016.9,11],[2018.55,28],[2018.85,32]];
const J1824_b = [[2007.55,1],[2007.85,-1],[2008.8,-8],[2010.05,-16],[2011.0,-21],[2011.3,-22],[2011.6,-24],[2011.95,-26],[2012.25,-27],[2012.55,-27],[2012.9,-27],[2013.2,-26],[2013.5,-24],[2014.15,-17],[2015.4,-6],[2015.7,-1],[2017.2,13],[2017.9,19]];

const J1857_t = [[2004.0,0],[2004.4,4],[2005.5,4],[2006.9,4],[2007.85,2],[2009.1,1],[2010.35,-1],[2011.45,-2],[2012.25,-3],[2013.2,-2],[2014.15,-3],[2015.1,-5],[2015.9,-6],[2016.65,-4],[2017.45,-3],[2018.2,-1],[2018.6,-1]];
const J1857_o = [[2004.1,-26],[2004.4,28],[2004.55,14],[2004.85,-15],[2005.65,11],[2006.3,-6],[2006.65,19],[2007.2,27],[2007.6,20],[2007.85,22],[2008.0,-24],[2008.3,35],[2008.8,2],[2009.1,-10],[2009.25,-13],[2010.05,14],[2010.35,-6],[2010.7,7],[2011.55,17],[2011.6,20],[2011.95,-13],[2012.35,24],[2012.75,14],[2013.2,-13],[2013.65,-6],[2014.2,17],[2014.6,-6],[2014.95,-13],[2015.4,0],[2015.55,-6],[2015.85,-10],[2016.35,-5],[2016.95,2],[2018.05,-12],[2018.05,7],[2018.55,4],[2019.35,4],[2019.8,4],[2020.05,-10],[2020.9,4],[2021.7,2],[2021.9,-1]];
const J1857_g = [[2004.45,2],[2004.65,-1],[2004.7,7],[2005.0,4],[2005.35,-3],[2005.55,14],[2006.1,2],[2006.3,-5],[2007.05,7],[2007.55,-1],[2008.5,4],[2008.8,14],[2009.1,0],[2009.4,-3],[2009.9,2],[2010.85,-3],[2012.25,-1],[2013.05,0],[2013.85,-1],[2014.75,-6],[2015.15,-8],[2015.7,-6],[2016.2,-5],[2016.95,12],[2017.3,-1],[2017.6,-3],[2018.25,4],[2018.7,-3],[2019.35,-5],[2019.95,-1],[2021.05,-3],[2021.35,-1]];
const J1857_b = [[2005.8,5],[2006.6,4],[2007.85,7],[2008.15,4],[2009.2,20],[2009.35,10],[2010.05,6],[2010.35,0],[2011.1,20],[2011.25,-24],[2011.45,-16],[2011.55,-20],[2011.85,-3],[2012.25,-6],[2012.5,-3],[2012.9,5],[2013.2,-3],[2013.65,-8],[2014.15,3],[2014.7,-15],[2015.0,10],[2014.95,-30],[2015.3,-11],[2015.55,-3],[2015.7,-13],[2016.1,-10],[2016.65,-5],[2016.9,-19],[2017.15,0],[2017.6,2],[2017.6,-22],[2018.0,-22],[2018.55,-1],[2019.0,2],[2019.5,-1],[2019.8,0],[2020.45,2],[2020.75,0],[2021.2,-1],[2021.55,2],[2021.85,4],[2022.1,2]];

const J1909_t1 = [[2004.0,-3],[2004.5,-8],[2005.0,-12],[2005.5,-12],[2006.0,-12],[2006.5,-13],[2007.0,-12],[2007.5,-12]];
const J1909_t2 = [[2007.5,-12],[2007.85,-12],[2009.1,-13],[2010.35,-12],[2011.15,-8],[2011.95,-7],[2012.9,-3],[2013.65,2],[2014.45,5],[2015.4,6],[2016.2,6],[2017.0,5],[2017.9,4],[2018.85,6],[2019.8,7],[2020.45,8],[2020.85,7],[2020.95,'-'],[2021.05,0],[2021.7,-2],[2022.25,-4]];
const J1909_o = [[2004.65,27],[2004.7,15],[2004.8,7],[2005.0,13],[2005.25,7],[2005.5,12],[2005.75,28],[2005.8,23],[2006.1,7],[2006.2,5],[2006.5,16],[2006.65,-13],[2007.05,-32],[2007.4,-27],[2007.95,12],[2008.45,15],[2008.9,7],[2009.1,-5],[2009.35,-23],[2010.05,-15],[2011.05,-31],[2011.95,-12],[2012.55,7],[2013.2,-10],[2013.85,-13],[2014.05,28],[2014.6,-2],[2014.95,13],[2015.15,22],[2015.4,17],[2015.7,18],[2015.8,-2],[2016.35,16],[2016.9,-13],[2017.15,2],[2017.75,12],[2017.9,21],[2018.25,-8],[2018.7,0],[2019.0,15],[2019.3,25],[2019.5,-5],[2019.8,10],[2020.45,17],[2020.75,-2],[2022.0,-8],[2022.15,-10]];
const J1909_g = [[2004.15,-3],[2004.25,-8],[2004.4,-13],[2004.45,-24],[2004.85,-10],[2005.2,-7],[2005.5,-15],[2005.65,-25],[2006.1,-20],[2006.6,-12],[2006.9,-17],[2007.4,-13],[2007.85,-15],[2008.8,-15],[2009.35,-25],[2009.6,-13],[2010.05,-12],[2010.45,-12],[2011.05,-22],[2011.65,-7],[2012.1,5],[2012.75,-2],[2013.5,2],[2015.4,3],[2017.45,8],[2018.7,15],[2019.15,13],[2020.3,18],[2020.9,12],[2021.2,-5],[2022.0,15],[2022.1,-2]];
const J1909_b = [[2004.3,-5],[2004.7,3],[2004.95,-10],[2005.35,8],[2007.4,-22],[2007.55,-17],[2011.95,-20],[2014.05,12],[2015.25,9],[2016.35,12],[2016.95,-2],[2017.45,-5],[2018.05,7],[2018.8,21],[2019.5,12],[2020.1,12],[2021.7,2],[2022.15,-5]];

const J1939_t1 = [[2004.2,-8],[2004.7,-14],[2005.0,-18],[2005.5,-22],[2006.1,-25],[2006.45,-25]];
const J1939_t2 = [[2007.5,-18],[2008.15,-14],[2008.8,-9],[2009.75,-6],[2010.7,-3],[2011.95,0],[2012.55,2],[2013.2,5],[2013.85,8],[2014.45,12],[2014.75,16],[2015.4,21],[2016.0,26],[2016.65,28],[2017.3,32],[2017.9,35],[2018.2,35]];
const J1939_o = [[2004.85,-16],[2006.45,-25],[2006.65,-24],[2016.0,26],[2017.3,32],[2017.9,35]];
const J1939_g = [[2004.2,-8],[2004.4,-10],[2004.55,-12],[2004.7,-14],[2005.0,-18],[2005.25,-20],[2005.5,-22],[2005.8,-24],[2006.1,-25],[2009.1,-8],[2009.75,-6],[2016.95,31],[2018.55,35],[2013.5,41]];
const J1939_b = [[2006.9,-23],[2007.2,-21],[2007.55,-18],[2007.85,-16],[2008.15,-14],[2008.5,-12],[2008.8,-9],[2009.45,-7],[2010.05,-5],[2010.35,-4],[2010.7,-3],[2011.0,-2],[2011.3,-1],[2011.6,0],[2011.95,0],[2012.25,1],[2012.55,2],[2012.9,3],[2013.2,5],[2013.5,6],[2013.85,8],[2014.15,10],[2014.45,12],[2014.75,16],[2015.1,19],[2015.4,21],[2015.7,24],[2016.35,27],[2016.65,28],[2017.6,33],[2018.2,35],[2018.85,34],[2019.25,31],[2019.65,27],[2020.25,18],[2020.6,15],[2020.9,11],[2021.15,6],[2021.55,-2],[2021.8,-5],[2022.0,-8]];

const J2129_t = [[2005.8,0],[2006.5,0],[2007.5,-1],[2008.5,-1],[2010,0],[2011,-1],[2012,-1],[2013,-1],[2014,0],[2015,0],[2016,0],[2017,0],[2018,-1],[2018.8,0],[2019.5,1],[2020.5,1],[2021.3,0],[2022.2,0]];
const J2129_o = [[2004.4,-5],[2006.1,0],[2006.6,-3],[2007.55,-2],[2008.8,-2],[2009.4,-3],[2009.9,0],[2010.5,-2],[2011.6,0],[2012.35,-5],[2013.2,3],[2013.6,-5],[2014.0,3],[2014.6,-3],[2015.1,0],[2016.05,7],[2016.5,5],[2017.15,0],[2017.75,-5],[2018.4,2],[2018.95,3],[2019.35,7],[2019.7,2],[2020.3,5],[2021.1,36],[2021.3,0],[2021.75,2]];
const J2129_g = [[2005.9,-2],[2006.3,10],[2006.2,3],[2006.45,-3],[2006.85,-8],[2007.25,-14],[2007.55,-3],[2008.3,0],[2009.1,-5],[2010.15,11],[2010.35,3],[2011.15,4],[2011.8,-7],[2012.55,-2],[2013.05,-10],[2013.5,5],[2014.45,3],[2015.25,9],[2015.85,-3],[2016.8,-8],[2017.15,12],[2017.9,-3],[2018.55,2],[2018.95,11],[2019.0,3],[2019.25,-3],[2019.55,8],[2020.1,3],[2020.65,19],[2021.05,-2],[2021.55,3],[2022.0,-3]];
const J2129_b = [[2018.85,-5],[2018.95,-12],[2019.15,-13],[2019.5,-3],[2019.65,3],[2020.1,7],[2020.45,3],[2020.75,-2],[2021.2,0],[2021.7,2],[2022.25,-8],[2022.15,3]];

const J2241_t = [[2010.05,0],[2010.5,-2],[2011,-3],[2011.5,-3],[2012,-3],[2012.5,-2],[2013,-3],[2013.5,-3],[2014,-2],[2014.5,-3],[2015,-4],[2015.5,-5],[2016,0],[2016.5,3],[2017,3],[2017.5,2],[2018,2],[2018.5,3],[2019,6],[2019.5,7],[2020,5],[2020.5,3],[2021,-3],[2021.5,-4],[2022.2,-1]];
const J2241_o = [[2010.2,25],[2010.5,-12],[2011.0,-32],[2011.15,-35],[2011.6,-12],[2012.1,4],[2012.8,21],[2013.05,23],[2013.85,18],[2014.3,-16],[2014.75,-6],[2015.25,-12],[2015.55,-9],[2016.05,-1],[2016.55,33],[2016.9,-32],[2017.15,-9],[2017.75,-29],[2018.05,1],[2018.55,4],[2018.9,23],[2019.25,14],[2019.65,21],[2019.9,4],[2020.45,25],[2020.75,8],[2021.05,-1],[2021.15,-21],[2021.35,-9],[2021.7,-9],[2021.9,-4]];
const J2241_g = [[2010.2,3],[2010.3,-21],[2010.5,-9],[2010.75,14],[2011.1,-2],[2011.6,-6],[2011.95,8],[2013.05,1],[2013.45,8],[2014.0,-12],[2014.55,9],[2014.85,-22],[2015.15,-6],[2015.55,-9],[2016.2,1],[2016.75,8],[2017.3,9],[2017.6,4],[2018.4,1],[2018.55,9],[2018.85,8],[2019.0,13],[2019.35,9],[2019.5,6],[2019.8,11],[2020.1,4],[2020.6,3],[2020.75,-16],[2021.05,-6],[2021.35,-4],[2021.6,-2],[2022.0,-1]];
const J2241_b = [[2010.1,33],[2010.2,-12],[2010.35,1],[2010.7,-16],[2010.9,8],[2011.15,14],[2011.45,-26],[2011.85,-27],[2012.0,19],[2012.25,-2],[2012.5,4],[2012.8,24],[2012.95,-16],[2013.2,-6],[2013.35,14],[2013.65,13],[2013.85,-9],[2014.3,-34],[2014.45,4],[2014.6,-22],[2015.0,19],[2015.1,-19],[2015.25,-31],[2015.4,-24],[2015.55,-36],[2015.7,-12],[2015.85,-6],[2016.2,11],[2016.4,4],[2016.65,18],[2016.9,23],[2017.15,21],[2017.45,1],[2017.85,-25],[2018.05,-23],[2018.25,8],[2018.55,14],[2018.85,32],[2018.95,-14],[2019.2,34],[2019.35,18],[2019.55,14],[2019.8,19],[2019.95,-2],[2020.1,1],[2020.45,13],[2020.75,4],[2021.15,-21],[2021.3,-19],[2021.65,-12],[2022.0,11],[2022.1,4]];

// dots per panel in the same order as names: [orange, green, blue]
const dots = [
  [J0030_o, J0030_g, J0030_b], [J0437_o, J0437_g, J0437_b], [J0614_o, J0614_g, J0614_b], [J0900_o, J0900_g, J0900_b],
  [J1022_o, J1022_g, J1022_b], [J1045_o, J1045_g, J1045_b], [J1446_o, J1446_g, J1446_b], [J1600_o, J1600_g, J1600_b],
  [J1643_o, J1643_g, J1643_b], [J1730_o, J1730_g, J1730_b], [J1744_o, J1744_g, J1744_b], [J1832_o, J1832_g, J1832_b],
  [J1902_o, J1902_g, J1902_b], [J1933_o, J1933_g, J1933_b], [J2124_o, J2124_g, J2124_b], [J2145_o, J2145_g, J2145_b],
  [J0125_o, J0125_g, J0125_b], [J0613_o, J0613_g, J0613_b], [J0711_o, J0711_g, J0711_b], [J1017_o, J1017_g, J1017_b],
  [J1024_o, J1024_g, J1024_b], [J1125_o, J1125_g, J1125_b], [J1545_o, J1545_g, J1545_b], [J1603_o, J1603_g, J1603_b],
  [J1713_o, J1713_g, J1713_b], [J1741_o, J1741_g, J1741_b], [J1824_o, J1824_g, J1824_b], [J1857_o, J1857_g, J1857_b],
  [J1909_o, J1909_g, J1909_b], [J1939_o, J1939_g, J1939_b], [J2129_o, J2129_g, J2129_b], [J2241_o, J2241_g, J2241_b]
];

// dense runs of points drawn as a thick trace: [panel, points, core colour, core width, colour mixed around it]
const trends = [
  ['J0437−4715', J0437_t, 'b', 6, 'o'], ['J0900−3144', J0900_t, 'g', 4, 'o'], ['J1022+1001', J1022_t, 'g', 5, 'o'],
  ['J1045−4509', J1045_t, 'g', 5, 'o'], ['J1600−3053', J1600_t, 'g', 5, 'b'], ['J1643−1224', J1643_t, 'g', 4, 'b'],
  ['J1730−2304', J1730_t, 'g', 4, 'b'], ['J1744−1134', J1744_t, 'g', 4, 'b'], ['J2124−3358', J2124_t, 'g', 5, 'o'],
  ['J2145−0750', J2145_t, 'g', 5, 'b'], ['J0125−2327', J0125_t, 'g', 5, 'b'], ['J0613−0200', J0613_t, 'g', 5, 'o'],
  ['J0711−6830', J0711_t, 'g', 4, 'o'], ['J1017−7156', J1017_t, 'g', 5, 'o'], ['J1024−0719', J1024_t, 'g', 3.5, null],
  ['J1125−6014', J1125_t, 'b', 5, 'o'], ['J1545−4550', J1545_t, 'g', 4, 'b'], ['J1603−7202', J1603_t, 'g', 4, 'o'],
  ['J1713+0747', J1713_t, 'g', 4, 'b'], ['J1824−2452A', J1824_t1, 'o', 3, null], ['J1824−2452A', J1824_t2, 'b', 3, null],
  ['J1824−2452A', J1824_t3, 'o', 3, null], ['J1857+0943', J1857_t, 'g', 4, 'b'], ['J1909−3744', J1909_t1, 'g', 5, 'o'],
  ['J1909−3744', J1909_t2, 'b', 6, 'o'], ['J1939+2134', J1939_t1, 'g', 3.5, null], ['J1939+2134', J1939_t2, 'b', 3.5, null],
  ['J2129−5721', J2129_t, 'g', 4, 'o'], ['J2241−5236', J2241_t, 'g', 5, 'b']
];

const chart = echarts.init(document.getElementById('main'), null, {renderer: 'canvas'});
const FONT = '"Liberation Serif", "DejaVu Serif", serif';
const COLOR = {o: '#e5a530', g: '#0c6c0c', b: '#1414e4'};
const ROW_H = 77.67, ROW0 = 36, X_MIN = 2004, X_MAX = 2022.15;

const grid = [], xAxis = [], yAxis = [], series = [], graphic = [];

names.forEach((name, i) => {
  const col = i < 16 ? 0 : 1;
  const row = i % 16;
  const mid = ROW0 + row * ROW_H;
  const last = row === 15;
  grid.push({left: col ? 824 : 136, width: 502, top: mid - ROW_H / 2, height: ROW_H});
  xAxis.push({
    type: 'value', gridIndex: i, min: X_MIN, max: X_MAX,
    axisLine: {show: false},
    splitLine: {show: false},
    axisTick: {
      show: last || row % 2 === 1, customValues: yearTicks, length: last ? 6 : 2,
      lineStyle: {color: last ? '#111' : '#d0d0d0', width: last ? 1.2 : 1}
    },
    axisLabel: {
      show: last, customValues: yearTicks, margin: 13, color: '#111',
      fontFamily: FONT, fontSize: 17, formatter: v => String(v)
    }
  });
  yAxis.push({type: 'value', gridIndex: i, min: -ROW_H / 2, max: ROW_H / 2, show: false});

  // dotted zero line across the panel
  series.push({
    type: 'line', xAxisIndex: i, yAxisIndex: i, data: [[X_MIN, 0], [X_MAX, 0]],
    showSymbol: false, silent: true, z: 1,
    lineStyle: {color: '#808080', width: 1.2, type: [1.2, 2.4]}
  });

  const [o, g, b] = dots[i];
  [['o', o, 2], ['b', b, 4], ['g', g, 5]].forEach(([key, pts, z]) => {
    series.push({
      type: 'scatter', xAxisIndex: i, yAxisIndex: i, data: pts, z: z,
      symbolSize: 3.6, clip: false, silent: true,
      itemStyle: {color: COLOR[key], opacity: 1}
    });
  });

  graphic.push({
    type: 'text', x: col ? 700 : 12, y: mid - 11,
    style: {text: name, font: '22.5px ' + FONT, fill: '#111', verticalAlign: 'middle', textVerticalAlign: 'middle'}
  });
  graphic.push({
    type: 'text', x: col ? 700 : 12, y: mid + 11,
    style: {
      text: '{n|' + rms[i] + ' }{m|μ}{n|s}', verticalAlign: 'middle', textVerticalAlign: 'middle',
      rich: {
        n: {font: '22.5px ' + FONT, fill: '#111'},
        m: {font: 'italic 22.5px ' + FONT, fill: '#111'}
      }
    }
  });
});

trends.forEach(([name, pts, key, width, mix]) => {
  const i = names.indexOf(name);
  if (mix) {
    // speckled fringe of the other backends around the dense run
    series.push({
      type: 'line', xAxisIndex: i, yAxisIndex: i, data: pts, z: 3,
      showSymbol: false, silent: true, clip: false, smooth: 0.25, connectNulls: false,
      lineStyle: {color: COLOR[mix], width: width + 5, type: [2.5, 3, 1.5, 4.5, 3, 2, 2, 5.5, 1.5, 3], cap: 'butt', join: 'round'}
    });
  }
  series.push({
    type: 'line', xAxisIndex: i, yAxisIndex: i, data: pts, z: 3,
    showSymbol: false, silent: true, clip: false, smooth: 0.25, connectNulls: false,
    lineStyle: {color: COLOR[key], width: width, cap: 'round', join: 'round'}
  });
});

graphic.push({type: 'text', x: 338, y: 1286, style: {text: 'Year', font: '25px ' + FONT, fill: '#111', align: 'center', textAlign: 'center', verticalAlign: 'middle', textVerticalAlign: 'middle'}});
graphic.push({type: 'text', x: 1027, y: 1286, style: {text: 'Year', font: '25px ' + FONT, fill: '#111', align: 'center', textAlign: 'center', verticalAlign: 'middle', textVerticalAlign: 'middle'}});

chart.setOption({
  animation: false,
  backgroundColor: '#fff',
  grid: grid,
  xAxis: xAxis,
  yAxis: yAxis,
  series: series,
  graphic: graphic
});
</script>
</body>
</html>
